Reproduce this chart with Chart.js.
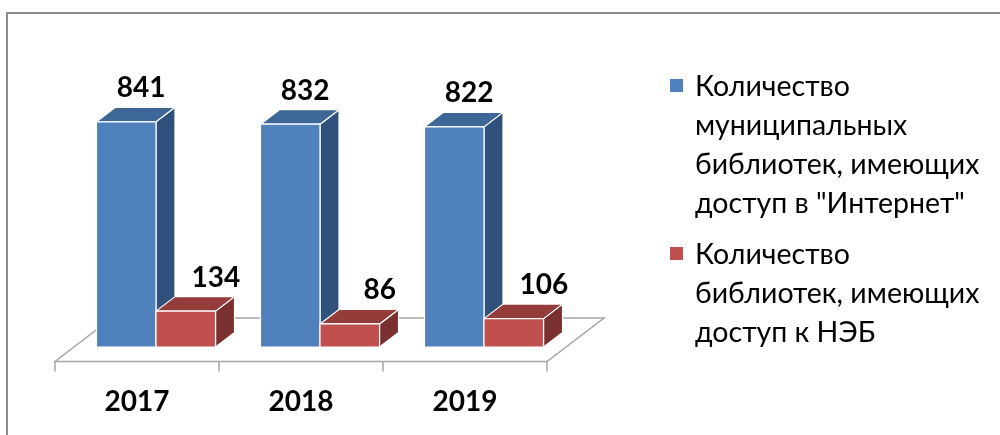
<!DOCTYPE html>
<html lang="ru">
<head>
<meta charset="utf-8">
<title>Библиотеки</title>
<script src="https://cdn.jsdelivr.net/npm/chart.js@4.4.0/dist/chart.umd.min.js"></script>
<style>
    html, body { margin: 0; padding: 0; background: #fff; }
    #wrap { position: relative; width: 1000px; height: 435px; overflow: hidden; font-family: Lato, "Open Sans", sans-serif; }
    #frame { position: absolute; left: 6px; top: 12px; width: 1100px; height: 600px; border-top: 2px solid #8c8c8c; border-left: 2px solid #8c8c8c; }
    #chart { position: absolute; left: 0; top: 0; }
    #legend { position: absolute; left: 670px; top: 66px; }
    .item { position: relative; padding-left: 25px; font-size: 28.5px; line-height: 39px; color: #000; white-space: nowrap; }
    .item + .item { margin-top: 12px; }
    .box { position: absolute; left: 0; top: 13px; width: 13px; height: 13px; }
</style>
</head>
<body>
<div id="wrap">
    <div id="frame"></div>
    <canvas id="chart" width="1000" height="435"></canvas>
    <div id="legend"></div>
</div>
<script>
// data
const years = ['2017', '2018', '2019'];
const internetLibs = [841, 832, 822];
const nebLibs = [134, 86, 106];
const seriesNames = [
    ['Количество', 'муниципальных', 'библиотек, имеющих', 'доступ в "Интернет"'],
    ['Количество', 'библиотек, имеющих', 'доступ к НЭБ']
];

// colours: front, top, side
const faceColors = [
    ['#4f81bd', '#3c6797', '#30517b'],
    ['#c0504d', '#943c3a', '#7a302f']
];
const labelShift = [15, 30];
const DX = 19, DY = -14.5;

// draw the floor and ticks under the bars
const floorPlugin = {
    id: 'floor3d',
    beforeDatasetsDraw(chart) {
        const ctx = chart.ctx;
        const xs = chart.scales.x;
        const ys = chart.scales.y;
        const left = chart.chartArea.left;
        const right = chart.chartArea.right;
        const base = ys.getPixelForValue(0);
        const step = xs.getPixelForValue(1) - xs.getPixelForValue(0);

        ctx.save();
        ctx.strokeStyle = '#a6a6a6';
        ctx.lineWidth = 1.5;
        ctx.beginPath();
        ctx.moveTo(left - DX, base - DY);
        ctx.lineTo(right - DX, base - DY);
        ctx.lineTo(right + 2 * DX, base + 2 * DY);
        ctx.lineTo(left + 2 * DX, base + 2 * DY);
        ctx.closePath();
        ctx.stroke();

        ctx.beginPath();
        for (let i = 0; i <= years.length; i++) {
            const tx = xs.getPixelForValue(0) - step / 2 + i * step - DX;
            ctx.moveTo(tx, base - DY);
            ctx.lineTo(tx, base - DY + 10);
        }
        ctx.stroke();
        ctx.restore();
    }
};

// draw the boxes (side, top, front) and the value labels
const boxPlugin = {
    id: 'box3d',
    afterDatasetsDraw(chart) {
        const ctx = chart.ctx;
        ctx.save();
        ctx.strokeStyle = '#ffffff';
        ctx.lineWidth = 1.2;
        ctx.lineJoin = 'round';

        chart.data.datasets.forEach((ds, di) => {
            const meta = chart.getDatasetMeta(di);
            const cols = faceColors[di];
            meta.data.forEach(bar => {
                const p = bar.getProps(['x', 'y', 'base', 'width'], true);
                const l = p.x - p.width / 2;
                const r = p.x + p.width / 2;
                const t = p.y;
                const b = p.base;

                // side
                ctx.fillStyle = cols[2];
                ctx.beginPath();
                ctx.moveTo(r, t);
                ctx.lineTo(r + DX, t + DY);
                ctx.lineTo(r + DX, b + DY);
                ctx.lineTo(r, b);
                ctx.closePath();
                ctx.fill();
                ctx.stroke();

                // top
                ctx.fillStyle = cols[1];
                ctx.beginPath();
                ctx.moveTo(l, t);
                ctx.lineTo(l + DX, t + DY);
                ctx.lineTo(r + DX, t + DY);
                ctx.lineTo(r, t);
                ctx.closePath();
                ctx.fill();
                ctx.stroke();

                // front
                ctx.fillStyle = cols[0];
                ctx.fillRect(l, t, r - l, b - t);
                ctx.strokeRect(l, t, r - l, b - t);
            });
        });

        // value labels
        ctx.fillStyle = '#000';
        ctx.font = 'bold 28px Lato, "Open Sans", sans-serif';
        ctx.textAlign = 'center';
        ctx.textBaseline = 'alphabetic';
        chart.data.datasets.forEach((ds, di) => {
            const meta = chart.getDatasetMeta(di);
            meta.data.forEach((bar, i) => {
                const p = bar.getProps(['x', 'y'], true);
                ctx.fillText(String(ds.data[i]), p.x + labelShift[di], p.y + DY - 10);
            });
        });
        ctx.restore();
    }
};

new Chart(document.getElementById('chart'), {
    type: 'bar',
    data: {
        labels: years,
        datasets: [{
            label: seriesNames[0].join(' '),
            data: internetLibs,
            backgroundColor: faceColors[0][0],
            borderColor: '#fff',
            borderWidth: 1
        }, {
            label: seriesNames[1].join(' '),
            data: nebLibs,
            backgroundColor: faceColors[1][0],
            borderColor: '#fff',
            borderWidth: 1
        }]
    },
    options: {
        responsive: false,
        animation: false,
        categoryPercentage: 0.726,
        barPercentage: 1.0,
        layout: {
            padding: { left: 74, right: 434, top: 106, bottom: 0 }
        },
        plugins: {
            legend: { display: false },
            tooltip: { enabled: false }
        },
        scales: {
            y: {
                display: false,
                min: 0,
                max: 900
            },
            x: {
                grid: { display: false, drawTicks: false },
                border: { display: false },
                ticks: {
                    color: '#000',
                    font: { family: 'Lato, "Open Sans", sans-serif', size: 28, weight: 'bold' },
                    labelOffset: -DX,
                    padding: 38,
                    maxRotation: 0
                },
                afterFit(scale) {
                    scale.height = 88;
                }
            }
        }
    },
    plugins: [floorPlugin, boxPlugin]
});

// legend
const legendEl = document.getElementById('legend');
seriesNames.forEach((lines, i) => {
    const item = document.createElement('div');
    item.className = 'item';
    const box = document.createElement('span');
    box.className = 'box';
    box.style.background = faceColors[i][0];
    item.appendChild(box);
    lines.forEach((line, j) => {
        if (j > 0) item.appendChild(document.createElement('br'));
        item.appendChild(document.createTextNode(line));
    });
    legendEl.appendChild(item);
});
</script>
</body>
</html>
